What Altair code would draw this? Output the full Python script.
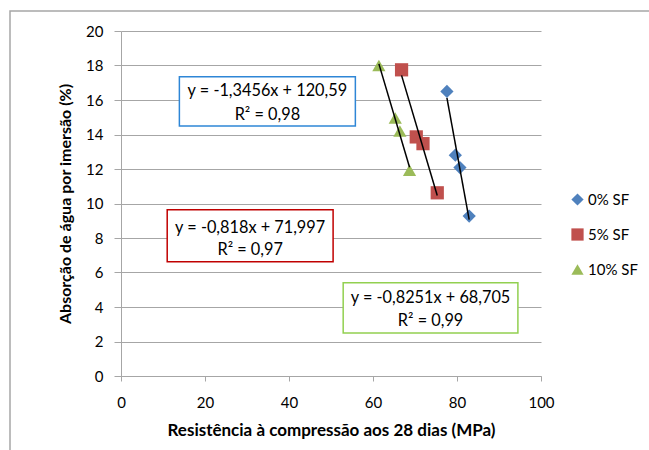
import altair as alt
import pandas as pd

# ---- data ----
series = ["0% SF"] * 4 + ["5% SF"] * 4 + ["10% SF"] * 4
resistencia = [77.6, 79.6, 80.7, 82.9,
               66.8, 70.3, 71.9, 75.3,
               61.4, 65.3, 66.4, 68.7]
absorcao = [16.5, 12.8, 12.08, 9.27,
            17.75, 13.86, 13.47, 10.62,
            18.0, 14.96, 14.2, 11.93]

series_order = ["0% SF", "5% SF", "10% SF"]
series_colors = ["#4F81BD", "#C0504D", "#9BBB59"]
series_shapes = ["diamond", "square", "triangle-up"]

x_ticks = [0, 20, 40, 60, 80, 100]
y_ticks = [0, 2, 4, 6, 8, 10, 12, 14, 16, 18, 20]

eq_lines1 = ["y = -1,3456x + 120,59", "y = -0,818x + 71,997", "y = -0,8251x + 68,705"]
eq_lines2 = ["R² = 0,98", "R² = 0,97", "R² = 0,99"]
box_colors = ["#2E86D6", "#C00000", "#92D050"]

# annotation placement (data coordinates)
box_x = [13.9, 11.0, 52.9]
box_x2 = [55.8, 50.5, 94.5]
box_y = [17.35, 9.64, 5.4]
box_y2 = [14.5, 6.63, 2.5]
txt_x = [34.85, 30.75, 73.7]
txt_y1 = [16.5, 8.6, 4.5]
txt_y2 = [15.15, 7.3, 3.2]

df = pd.DataFrame({"series": series, "x": resistencia, "y": absorcao})
boxes = pd.DataFrame({"x": box_x, "x2": box_x2, "y": box_y, "y2": box_y2, "c": box_colors})
texts = pd.DataFrame({
    "x": txt_x + txt_x,
    "y": txt_y1 + txt_y2,
    "t": eq_lines1 + eq_lines2,
})

FONT = "Lato"
GRAY = "#A6A6A6"

X = alt.X("x:Q", scale=alt.Scale(domain=[0, 100], nice=False),
          axis=alt.Axis(title="Resistência à compressão aos 28 dias (MPa)",
                        values=x_ticks, grid=False, tickSize=5,
                        labelPadding=14, titlePadding=12, titleFontSize=17))
Y = alt.Y("y:Q", scale=alt.Scale(domain=[0, 20], nice=False),
          axis=alt.Axis(title="Absorção de água por imersão (%)",
                        values=y_ticks, grid=True, tickSize=7,
                        labelPadding=11, titlePadding=12, titleFontSize=16))

base = alt.Chart(df)

points = base.mark_point(filled=True, opacity=1, size=175).encode(
    x=X, y=Y,
    color=alt.Color("series:N", scale=alt.Scale(domain=series_order, range=series_colors),
                    legend=alt.Legend(title=None, orient="none", legendX=449, legendY=161,
                                      rowPadding=19, symbolSize=150, labelFontSize=15,
                                      labelFont=FONT, labelOffset=3, symbolStrokeWidth=0)),
    shape=alt.Shape("series:N", scale=alt.Scale(domain=series_order, range=series_shapes)),
)

trend = base.transform_regression("x", "y", groupby=["series"]).mark_line(
    color="black", strokeWidth=1.5
).encode(x=X, y=Y, detail="series:N")

rects = alt.Chart(boxes).mark_rect(fill="white", strokeWidth=1.5).encode(
    x=X, x2="x2:Q", y=Y, y2="y2:Q",
    stroke=alt.Stroke("c:N", scale=None),
)

labels = alt.Chart(texts).mark_text(font=FONT, fontSize=16.3, color="black",
                                    align="center", baseline="middle").encode(
    x=X, y=Y, text="t:N")

frame = alt.Chart(df).mark_rect(fill=None, stroke=GRAY, strokeWidth=1.5).encode(
    x=alt.value(-111), x2=alt.value(700), y=alt.value(-20), y2=alt.value(600)
).transform_filter("datum.x == 77.6")

chart = alt.layer(frame, points, trend, rects, labels).properties(
    width=420, height=345,
    autosize=alt.AutoSizeParams(type="none"),
    padding={"left": 121, "top": 31, "right": 108, "bottom": 74},
).configure_view(stroke=None).configure_axis(
    domainColor=GRAY, tickColor=GRAY, gridColor=GRAY,
    labelFont=FONT, titleFont=FONT, labelFontSize=15,
    labelColor="black", titleColor="black", titleFontWeight="bold",
    domainWidth=1, gridWidth=1, labelOverlap=False, labelFlush=False,
)

chart.save("out.html", embed_options={"renderer": "svg", "actions": False})
